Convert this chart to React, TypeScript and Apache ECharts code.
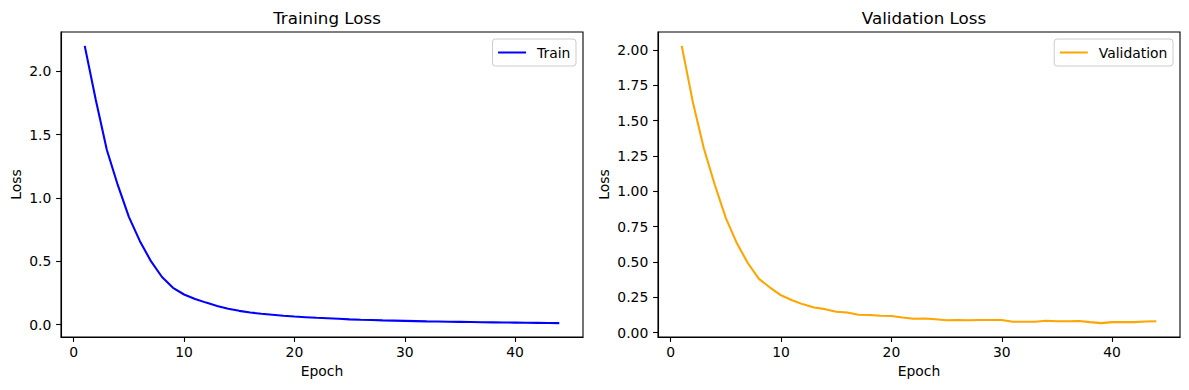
import React, { useEffect, useRef } from "react";
import * as echarts from "echarts";

const epochs = [
  1, 2, 3, 4, 5, 6, 7, 8, 9, 10, 11, 12, 13, 14, 15, 16, 17, 18, 19, 20, 21, 22,
  23, 24, 25, 26, 27, 28, 29, 30, 31, 32, 33, 34, 35, 36, 37, 38, 39, 40, 41, 42,
  43, 44,
];

const trainLoss = [
  2.2, 1.775, 1.38, 1.1, 0.85, 0.658, 0.5, 0.375, 0.29, 0.237, 0.202, 0.173,
  0.147, 0.125, 0.108, 0.095, 0.085, 0.077, 0.069, 0.063, 0.058, 0.053, 0.049,
  0.045, 0.041, 0.038, 0.036, 0.033, 0.031, 0.029, 0.027, 0.025, 0.024, 0.022,
  0.021, 0.02, 0.018, 0.017, 0.016, 0.015, 0.014, 0.013, 0.012, 0.011,
];

const valLoss = [
  2.03, 1.635, 1.305, 1.045, 0.81, 0.632, 0.491, 0.38, 0.319, 0.264, 0.229, 0.2,
  0.178, 0.166, 0.147, 0.142, 0.126, 0.125, 0.119, 0.117, 0.107, 0.098, 0.1,
  0.094, 0.087, 0.089, 0.088, 0.089, 0.089, 0.089, 0.077, 0.077, 0.077, 0.084,
  0.08, 0.08, 0.082, 0.074, 0.067, 0.074, 0.074, 0.074, 0.078, 0.08,
];

const xTicks = [0, 10, 20, 30, 40];
const trainYTicks = [0, 0.5, 1, 1.5, 2];
const valYTicks = [0, 0.25, 0.5, 0.75, 1, 1.25, 1.5, 1.75, 2];

const FONT = "DejaVu Sans";
const FS = 13.9;

function limits(vals: number[]): [number, number] {
  const lo = Math.min(...vals);
  const hi = Math.max(...vals);
  const m = (hi - lo) * 0.05;
  return [lo - m, hi + m];
}

export default function App() {
  const ref = useRef<HTMLDivElement>(null);

  useEffect(() => {
    if (!ref.current) return;
    const chart = echarts.init(ref.current, undefined, { renderer: "svg" });
    const [xMin, xMax] = limits(epochs);
    const [tMin, tMax] = limits(trainLoss);
    const [vMin, vMax] = limits(valLoss);

    const axisCommon = {
      type: "value" as const,
      nameLocation: "middle" as const,
      nameTextStyle: { fontSize: FS, color: "#000", fontFamily: FONT },
      axisLine: {
        show: true,
        onZero: false,
        lineStyle: { color: "#000", width: 1.1 },
      },
      splitLine: { show: false },
    };

    const xAxis = (gridIndex: number) => ({
      ...axisCommon,
      gridIndex,
      min: xMin,
      max: xMax,
      name: "Epoch",
      nameGap: 27,
      axisTick: {
        show: true,
        customValues: xTicks,
        length: 4.9,
        lineStyle: { color: "#000", width: 1.1 },
      },
      axisLabel: {
        customValues: xTicks,
        margin: 8,
        fontSize: FS,
        color: "#000",
        fontFamily: FONT,
        formatter: (v: number) => String(Math.round(v)),
      },
    });

    const yAxis = (
      gridIndex: number,
      min: number,
      max: number,
      ticks: number[],
      digits: number
    ) => ({
      ...axisCommon,
      gridIndex,
      min,
      max,
      name: "Loss",
      nameGap: digits === 1 ? 38 : 47,
      axisTick: {
        show: true,
        customValues: ticks,
        length: 4.9,
        lineStyle: { color: "#000", width: 1.1 },
      },
      axisLabel: {
        customValues: ticks,
        margin: 9.7,
        fontSize: FS,
        color: "#000",
        fontFamily: FONT,
        formatter: (v: number) => v.toFixed(digits),
      },
    });

    const legend = (name: string, right: number) => ({
      data: [name],
      right,
      top: 39,
      orient: "vertical" as const,
      icon: "rect",
      itemWidth: 28,
      itemHeight: 2,
      borderColor: "#cccccc",
      borderWidth: 1,
      borderRadius: 3,
      padding: [6, 5.6, 6, 5.6],
      backgroundColor: "rgba(255,255,255,0.8)",
      textStyle: {
        fontSize: FS,
        color: "#000",
        fontFamily: FONT,
        lineHeight: 15,
        padding: [0, 0, 0, 6],
      },
    });

    const title = (text: string, left: number) => ({
      text,
      left,
      top: 4,
      textAlign: "center" as const,
      textStyle: {
        fontSize: 16.7,
        fontWeight: "normal" as const,
        color: "#000",
        fontFamily: FONT,
      },
    });

    chart.setOption({
      animation: false,
      backgroundColor: "#ffffff",
      title: [title("Training Loss", 322), title("Validation Loss", 919)],
      legend: [legend("Train", 1189 - 576), legend("Validation", 1189 - 1173)],
      grid: [
        {
          left: 61,
          top: 32,
          width: 522,
          height: 305,
          show: true,
          borderColor: "#000",
          borderWidth: 1.1,
          backgroundColor: "transparent",
        },
        {
          left: 658,
          top: 32,
          width: 522,
          height: 305,
          show: true,
          borderColor: "#000",
          borderWidth: 1.1,
          backgroundColor: "transparent",
        },
      ],
      xAxis: [xAxis(0), xAxis(1)],
      yAxis: [
        yAxis(0, tMin, tMax, trainYTicks, 1),
        yAxis(1, vMin, vMax, valYTicks, 2),
      ],
      series: [
        {
          name: "Train",
          type: "line",
          xAxisIndex: 0,
          yAxisIndex: 0,
          data: epochs.map((e, i) => [e, trainLoss[i]]),
          showSymbol: false,
          color: "#0000ff",
          lineStyle: { width: 2.08, color: "#0000ff" },
        },
        {
          name: "Validation",
          type: "line",
          xAxisIndex: 1,
          yAxisIndex: 1,
          data: epochs.map((e, i) => [e, valLoss[i]]),
          showSymbol: false,
          color: "#ffa500",
          lineStyle: { width: 2.08, color: "#ffa500" },
        },
      ],
    });

    return () => chart.dispose();
  }, []);

  return (
    <div
      ref={ref}
      style={{
        position: "absolute",
        left: 0,
        top: 0,
        width: 1189,
        height: 390,
        background: "#fff",
      }}
    />
  );
}
